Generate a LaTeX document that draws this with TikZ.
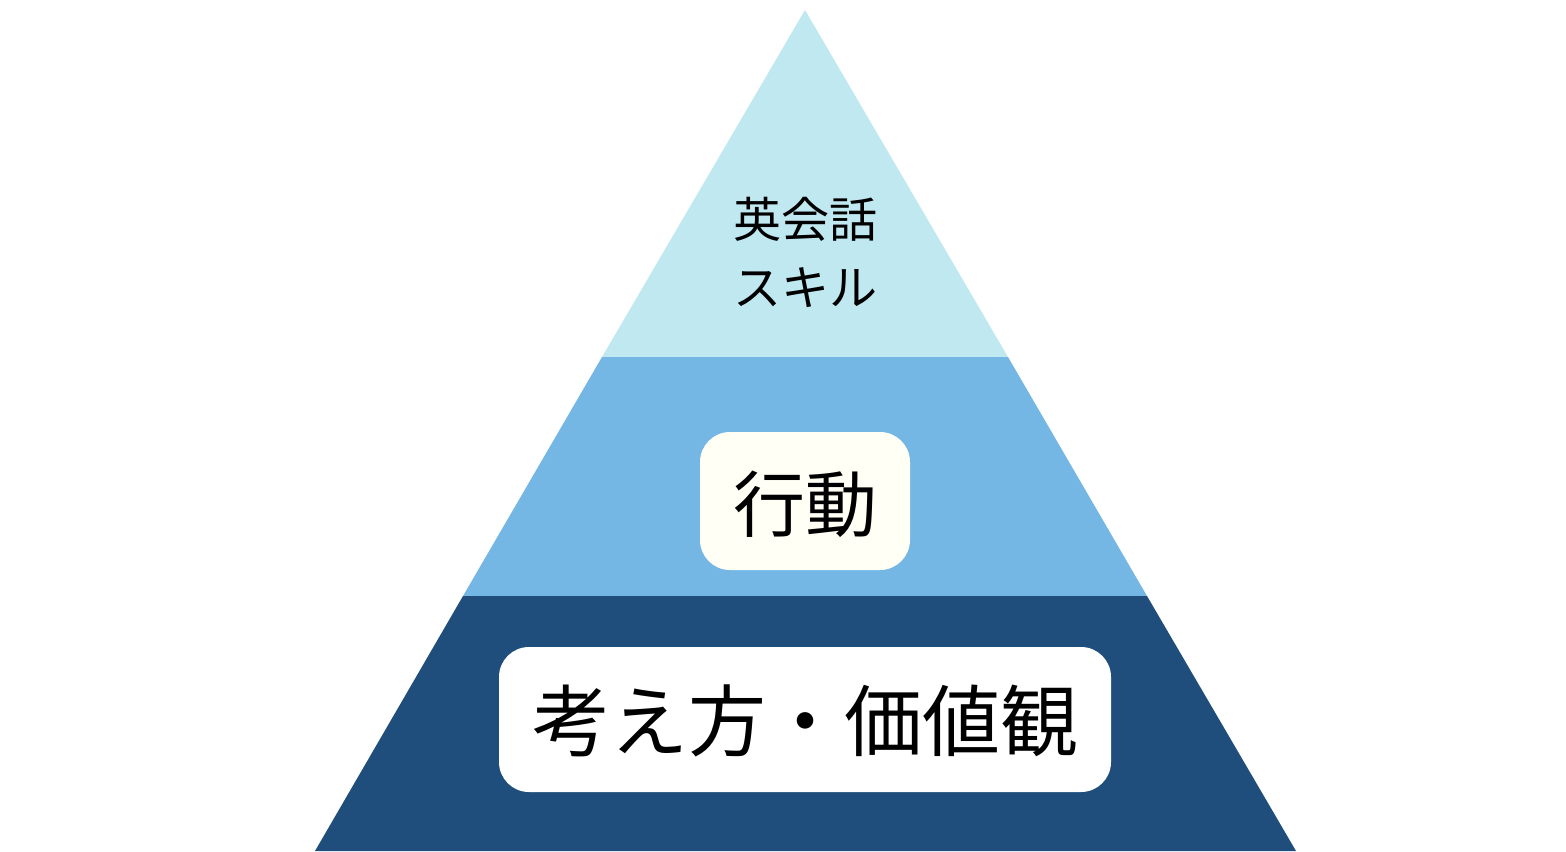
\documentclass[tikz,border=0pt]{standalone}
\usepackage{fontspec}
\newfontfamily\cjk{Noto Sans CJK JP}
\definecolor{toplayer}{HTML}{C0E8F1}
\definecolor{midlayer}{HTML}{74B6E4}
\definecolor{botlayer}{HTML}{1F4E7D}
\definecolor{ivory}{HTML}{FFFFF5}
\tikzset{
  labelbox/.style={rounded corners=15pt, draw=none, inner sep=0pt},
  lbl/.style={font=\cjk, text=black, inner sep=0pt, align=center}
}
\begin{document}
\begin{tikzpicture}[x=0.5pt,y=-0.5pt]
\useasboundingbox (0,0) rectangle (1566,851);
\fill[white] (0,0) rectangle (1566,851);
% layers
\fill[toplayer] (805,10) -- (1008,357) -- (602,357) -- cycle;
\fill[midlayer] (602,357) -- (1008,357) -- (1147,596) -- (463,596) -- cycle;
\fill[botlayer] (463,596) -- (1147,596) -- (1296,851) -- (315,851) -- cycle;
% boxes
\fill[ivory, labelbox] (700,432) rectangle (910,570);
\fill[white, labelbox] (499,647) rectangle (1111,792);
% texts
\node[lbl, font=\cjk\fontsize{24pt}{34pt}\selectfont] (top) at (805,252) {英会話\\スキル};
\node[lbl, font=\cjk\fontsize{36pt}{40pt}\selectfont] (mid) at (805,504) {行動};
\node[lbl, font=\cjk\fontsize{39pt}{44pt}\selectfont] (bot) at (805,721) {考え方・価値観};
\end{tikzpicture}
\end{document}
